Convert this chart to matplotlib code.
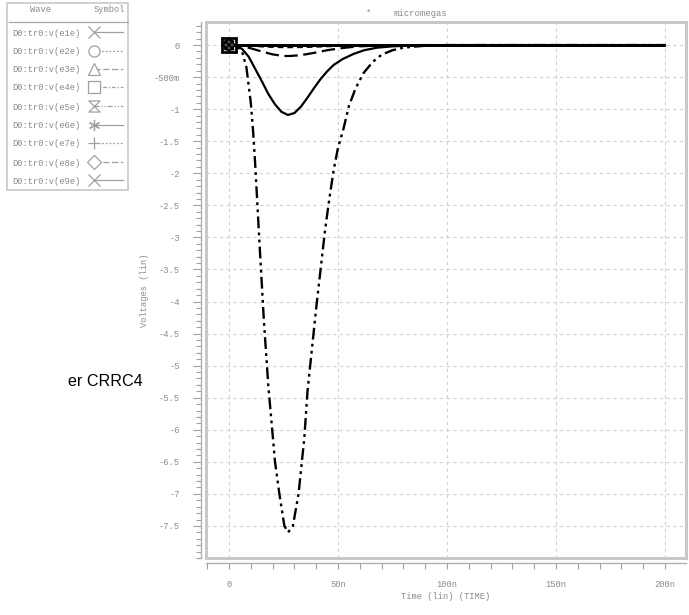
import matplotlib
matplotlib.use("Agg")
import matplotlib.pyplot as plt
from matplotlib.patches import Rectangle
from matplotlib.path import Path
from matplotlib.ticker import FixedLocator, MultipleLocator

# ---- data -----------------------------------------------------------------
wave_names = ["D0:tr0:v(e1e)", "D0:tr0:v(e2e)", "D0:tr0:v(e3e)",
              "D0:tr0:v(e4e)", "D0:tr0:v(e5e)", "D0:tr0:v(e6e)",
              "D0:tr0:v(e7e)", "D0:tr0:v(e8e)", "D0:tr0:v(e9e)"]

# time in ns, voltage in V
t_flat = [0, 200]
v_flat = [0, 0]

t_e3 = [0, 5, 10, 15, 20, 25, 30, 35, 40, 45, 50, 55, 60, 70, 80, 200]
v_e3 = [0, -0.003, -0.012, -0.022, -0.03, -0.034, -0.034, -0.031, -0.026,
        -0.02, -0.014, -0.009, -0.005, -0.002, 0, 0]

t_e4 = [0, 5, 10, 15, 20, 25, 28, 32, 36, 40, 45, 50, 55, 60, 70, 80, 200]
v_e4 = [0, -0.01, -0.05, -0.1, -0.145, -0.17, -0.17, -0.16, -0.14, -0.115,
        -0.08, -0.055, -0.035, -0.02, -0.005, 0, 0]

t_e5 = [0, 2, 4, 6, 8, 10, 11, 12, 14, 16, 18, 20.2, 21.1, 23.1, 25.4, 27.1,
        29.3, 31.9, 33.4, 34.5, 36, 38, 40, 42, 44, 46, 48, 50, 52.4, 55, 58,
        61.6, 66, 70, 75, 80, 90, 100, 200]
v_e5 = [0, -0.005, -0.03, -0.1, -0.35, -0.9, -1.32, -1.85, -3.1, -4.3, -5.3,
        -6.15, -6.5, -7.0, -7.5, -7.6, -7.5, -7.0, -6.5, -6.15, -5.4, -4.75,
        -4.1, -3.5, -2.9, -2.4, -1.95, -1.6, -1.32, -0.95, -0.68, -0.44,
        -0.26, -0.15, -0.08, -0.04, -0.01, 0, 0]

t_e6 = [0, 3, 6, 9, 12, 15, 18, 21, 24, 27, 30, 33, 36, 39, 42, 45, 48, 52,
        57, 62, 68, 75, 85, 100, 200]
v_e6 = [0, -0.01, -0.06, -0.18, -0.37, -0.56, -0.76, -0.92, -1.04, -1.09,
        -1.06, -0.96, -0.82, -0.67, -0.53, -0.41, -0.31, -0.22, -0.14, -0.08,
        -0.04, -0.02, -0.005, 0, 0]

series_t = [t_flat, t_flat, t_e3, t_e4, t_e5, t_e6, t_flat, t_flat, t_flat]
series_v = [v_flat, v_flat, v_e3, v_e4, v_e5, v_e6, v_flat, v_flat, v_flat]

y_ticks = [0, -0.5, -1, -1.5, -2, -2.5, -3, -3.5, -4, -4.5, -5, -5.5, -6,
           -6.5, -7, -7.5]
y_tick_labels = ["0", "-500m", "-1", "-1.5", "-2", "-2.5", "-3", "-3.5", "-4",
                 "-4.5", "-5", "-5.5", "-6", "-6.5", "-7", "-7.5"]
x_ticks = [0, 50, 100, 150, 200]
x_tick_labels = ["0", "50n", "100n", "150n", "200n"]

# ---- styles ---------------------------------------------------------------
hourglass = Path([(-1, 1), (1, 1), (-1, -1), (1, -1), (-1, 1)],
                 [Path.MOVETO, Path.LINETO, Path.LINETO, Path.LINETO,
                  Path.CLOSEPOLY])
markers = ["x", "o", "^", "s", hourglass, (6, 2, 0), "+", "D", "x"]
marker_sizes = [8, 8, 8, 8, 8, 8, 9, 7, 8]
legend_ls = ["-", (0, (1.5, 1.5)), (0, (5, 2)), (0, (3, 1.5, 1, 1.5)),
             (0, (4, 1.5, 1, 1.5, 1, 1.5)), "-", (0, (1.5, 1.5)),
             (0, (5, 2)), "-"]
curve_ls = ["-", (0, (1.5, 1.5)), (0, (3, 2)), (0, (6, 2.5)),
            (0, (5, 1.8, 1.2, 1.8, 1.2, 1.8)), "-", (0, (1.5, 1.5)),
            (0, (5, 2)), "-"]
curve_lw = [1.8, 1.8, 1.4, 1.6, 1.7, 1.6, 1.8, 1.8, 1.8]

mono = "Liberation Mono"
gray = "#8a8a8a"
W, H = 689, 615

fig = plt.figure(figsize=(W / 100, H / 100), dpi=100)
fig.patch.set_facecolor("white")

ax = fig.add_axes([206 / W, 1 - 558 / H, 480 / W, 536 / H])
ax.set_xlim(-10.55, 209.6)
ax.set_ylim(-8.0, 0.36)

for tt, vv, ls, lw in zip(series_t, series_v, curve_ls, curve_lw):
    ax.plot(tt, vv, color="black", linestyle=ls, linewidth=lw,
            solid_capstyle="butt", zorder=3)
# start-of-trace symbols, stacked on top of each other at t = 0
for tt, vv, mk in zip(series_t, series_v, markers):
    ax.plot(tt[:1], vv[:1], linestyle="none", marker=mk, markersize=6,
            markeredgecolor="black", markerfacecolor="#555555",
            markeredgewidth=1.2, zorder=4)
ax.plot(t_flat[:1], v_flat[:1], linestyle="none", marker="s", markersize=10,
        markeredgecolor="black", markerfacecolor="none",
        markeredgewidth=2.0, zorder=5)

# grid
for yv in y_ticks:
    ax.axhline(yv, color="#d0d0d0", linestyle=(0, (3, 3)), linewidth=0.8,
               zorder=1)
for xv in x_ticks:
    ax.axvline(xv, color="#d0d0d0", linestyle=(0, (3, 3)), linewidth=0.8,
               zorder=1)

# plot frame
ax.add_patch(Rectangle((0, 0), 1, 1, transform=ax.transAxes, fill=False,
                       edgecolor="#c8c8c8", linewidth=2.2, zorder=5,
                       clip_on=False))

for side in ("top", "right"):
    ax.spines[side].set_visible(False)
for side in ("left", "bottom"):
    ax.spines[side].set_position(("outward", 3.5))
    ax.spines[side].set_color("#b0b0b0")
    ax.spines[side].set_linewidth(1.0)

ax.yaxis.set_major_locator(FixedLocator(y_ticks))
ax.set_yticklabels(y_tick_labels)
ax.yaxis.set_minor_locator(MultipleLocator(0.1))
ax.xaxis.set_major_locator(FixedLocator(x_ticks))
ax.set_xticklabels(x_tick_labels)
ax.xaxis.set_minor_locator(MultipleLocator(10))

ax.tick_params(axis="y", which="major", direction="out", length=6, width=0.8,
               color="#a0a0a0", pad=9.5, labelsize=6.3, labelcolor=gray)
ax.tick_params(axis="y", which="minor", direction="out", length=3.5,
               width=0.8, color="#a0a0a0")
ax.tick_params(axis="x", which="major", direction="out", length=4.5,
               width=0.8, color="#a0a0a0", pad=8, labelsize=6.3,
               labelcolor=gray)
ax.tick_params(axis="x", which="minor", direction="out", length=4.5,
               width=0.8, color="#a0a0a0")
for lab in ax.get_xticklabels() + ax.get_yticklabels():
    lab.set_family(mono)

ax.set_ylabel("Voltages (lin)", family=mono, fontsize=6.3, color=gray,
              labelpad=3)
ax.set_xlabel("Time (lin) (TIME)", family=mono, fontsize=6.3, color=gray,
              labelpad=2)
ax.set_facecolor("white")

# ---- overlay in pixel coordinates: title, legend box, side text ----------
ov = fig.add_axes([0, 0, 1, 1], facecolor="none")
ov.set_xlim(0, W)
ov.set_ylim(H, 0)
ov.axis("off")

ov.text(369, 13, "*", family=mono, fontsize=6.3, color=gray,
        ha="center", va="center")
ov.text(394, 14, "micromegas", family=mono, fontsize=6.5, color=gray,
        ha="left", va="center")

ov.text(68, 382, "er CRRC4", family="Liberation Sans", fontsize=11.6,
        color="black", ha="left", va="center")

ov.add_patch(Rectangle((7, 3), 121, 187, fill=False, edgecolor="#c8c8c8",
                       linewidth=1.2))
ov.text(41, 10, "Wave", family=mono, fontsize=6.3, color=gray,
        ha="center", va="center")
ov.text(109, 10, "Symbol", family=mono, fontsize=6.3, color=gray,
        ha="center", va="center")
ov.plot([9, 128], [22, 22], color="#a8a8a8", linewidth=0.9)

row_y = [33, 52, 70, 88, 107, 126, 144, 163, 181]
for yy, name, mk, ms, ls in zip(row_y, wave_names, markers, marker_sizes,
                                legend_ls):
    ov.text(12, yy, name, family=mono, fontsize=6.3, color=gray,
            ha="left", va="center")
    ov.plot([94, 123], [yy - 1, yy - 1], color="#a0a0a0", linestyle=ls,
            linewidth=0.9)
    ov.plot([94], [yy - 1], marker=mk, markersize=ms, linestyle="none",
            markeredgecolor="#a0a0a0", markerfacecolor="white",
            markeredgewidth=0.9)

fig.savefig("out.png", dpi=100, facecolor="white")
